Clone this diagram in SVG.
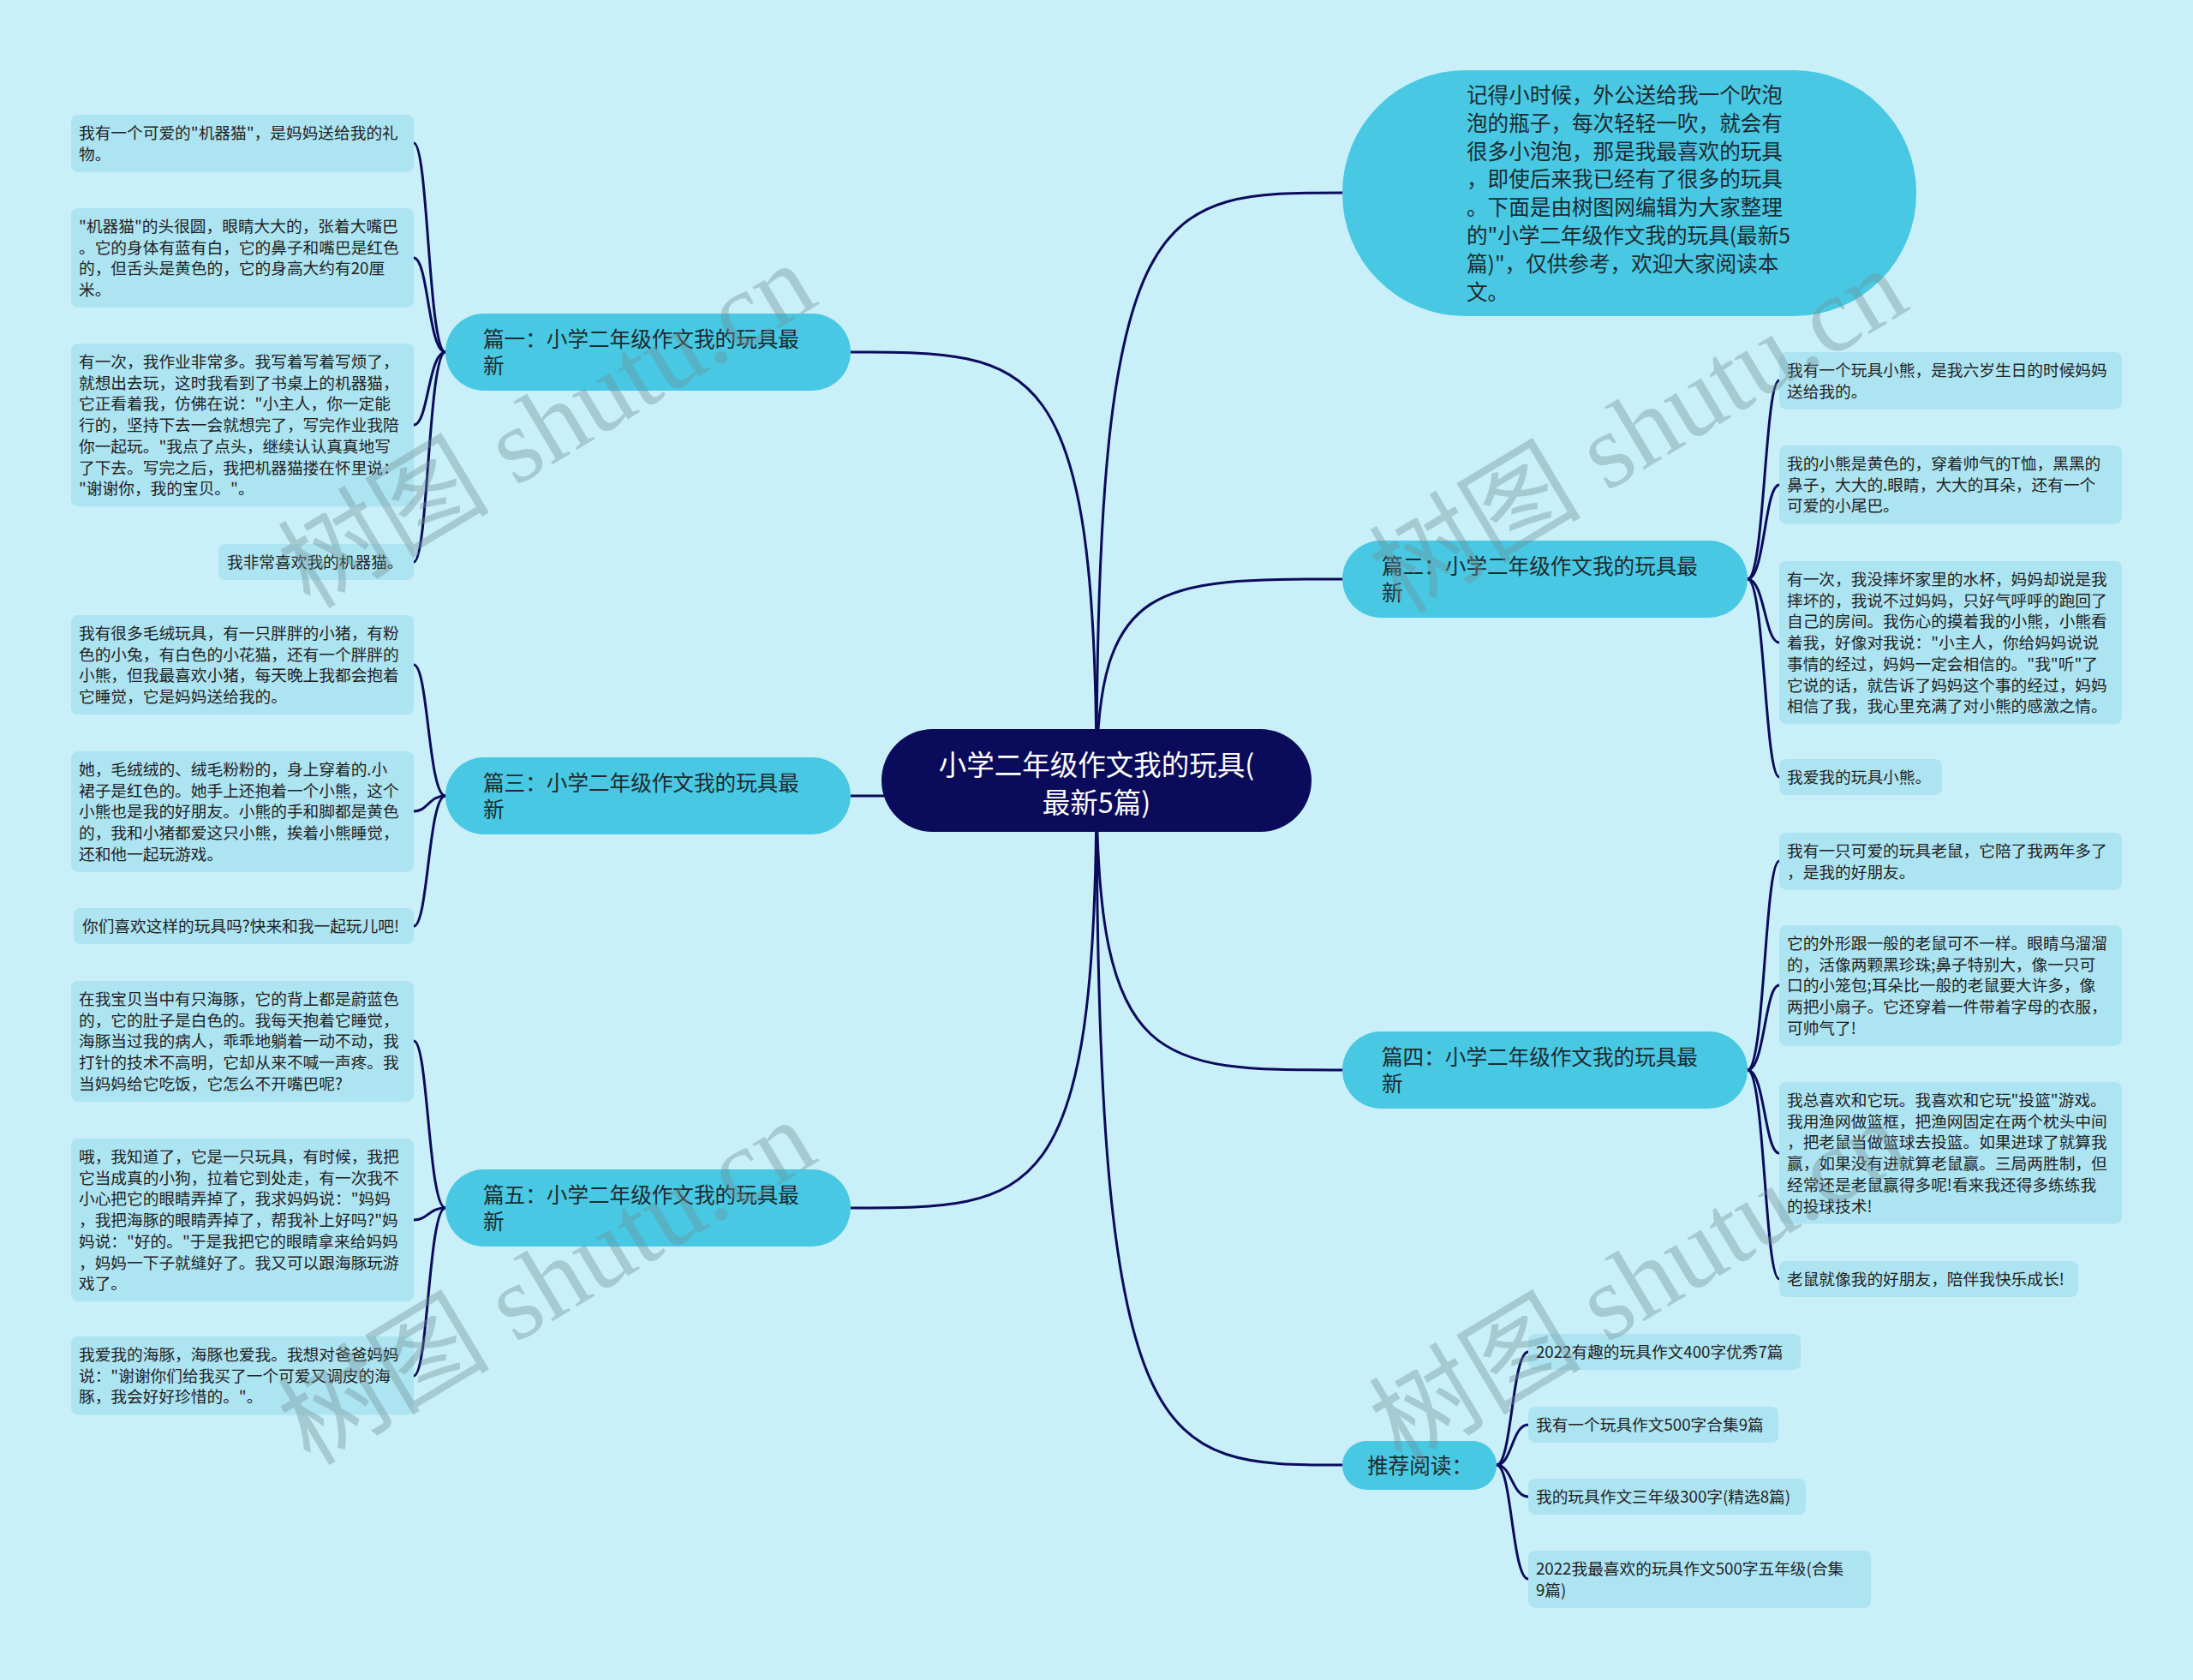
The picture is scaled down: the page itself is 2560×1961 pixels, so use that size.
<svg xmlns="http://www.w3.org/2000/svg" width="2560" height="1961" viewBox="0 0 2560 1961">
<style>
.bg{fill:#c9eff8}
.leaf rect{fill:#ade4f2}
.leaf text{font-family:"Noto Sans CJK SC","Noto Sans",sans-serif;font-size:18.7px;fill:#222}
.br rect{fill:#48c8e2}
.br text{font-family:"Noto Sans CJK SC","Noto Sans",sans-serif;font-size:24.6px;fill:#1e2a30}
.root rect{fill:#0b0b5c}
.root text{font-family:"Noto Sans CJK SC","Noto Sans",sans-serif;font-size:32.5px;fill:#fff;text-anchor:middle}
.conn path{fill:none;stroke:#0b0b5c;stroke-width:3}
.wm{font-family:"Liberation Serif","Noto Sans CJK SC",serif;font-size:124px;fill:#6f8f96;opacity:0.38}
</style>
<rect class="bg" x="0" y="0" width="2560" height="1961"/>

<g id="connectors" class="conn">
<path d="M1280 911 C1280 411 1208 411 993 411"/>
<path d="M1280 911 C1280 929 1208 929 993 929"/>
<path d="M1280 911 C1280 1410 1208 1410 993 1410"/>
<path d="M1280 911 C1280 225 1352 225 1567 225"/>
<path d="M1280 911 C1280 676 1352 676 1567 676"/>
<path d="M1280 911 C1280 1249 1352 1249 1567 1249"/>
<path d="M1280 911 C1280 1710 1352 1710 1567 1710"/>
<path d="M520 411 C500 411 500 167 483 167"/>
<path d="M520 411 C500 411 500 301 483 301"/>
<path d="M520 411 C500 411 500 496 483 496"/>
<path d="M520 411 C500 411 500 656 483 656"/>
<path d="M520 929 C500 929 500 776 483 776"/>
<path d="M520 929 C500 929 500 947 483 947"/>
<path d="M520 929 C500 929 500 1081 483 1081"/>
<path d="M520 1410 C500 1410 500 1215 483 1215"/>
<path d="M520 1410 C500 1410 500 1424 483 1424"/>
<path d="M520 1410 C500 1410 500 1606 483 1606"/>
<path d="M2040 676 C2060 676 2060 444 2077 444"/>
<path d="M2040 676 C2060 676 2060 566 2077 566"/>
<path d="M2040 676 C2060 676 2060 750 2077 750"/>
<path d="M2040 676 C2060 676 2060 907 2077 907"/>
<path d="M2040 1249 C2060 1249 2060 1005 2077 1005"/>
<path d="M2040 1249 C2060 1249 2060 1150 2077 1150"/>
<path d="M2040 1249 C2060 1249 2060 1346 2077 1346"/>
<path d="M2040 1249 C2060 1249 2060 1493 2077 1493"/>
<path d="M1747 1710 C1765 1710 1765 1578 1784 1578"/>
<path d="M1747 1710 C1765 1710 1765 1663 1784 1663"/>
<path d="M1747 1710 C1765 1710 1765 1747 1784 1747"/>
<path d="M1747 1710 C1765 1710 1765 1843 1784 1843"/>
</g>

<g id="root" class="root">
<rect x="1029" y="851" width="502" height="120" rx="60"/>
<text x="1280" y="905">小学二年级作文我的玩具(<tspan x="1280" dy="44">最新5篇)</tspan></text>
</g>

<g id="b1" class="br"><rect x="520" y="366" width="473" height="90" rx="45"/>
<text x="564" y="405">篇一：小学二年级作文我的玩具最<tspan x="564" dy="31">新</tspan></text></g>
<g id="b3" class="br"><rect x="520" y="884" width="473" height="90" rx="45"/>
<text x="564" y="923">篇三：小学二年级作文我的玩具最<tspan x="564" dy="31">新</tspan></text></g>
<g id="b5" class="br"><rect x="520" y="1365" width="473" height="90" rx="45"/>
<text x="564" y="1404">篇五：小学二年级作文我的玩具最<tspan x="564" dy="31">新</tspan></text></g>
<g id="b2" class="br"><rect x="1567" y="631" width="473" height="90" rx="45"/>
<text x="1613" y="670">篇二：小学二年级作文我的玩具最<tspan x="1613" dy="31">新</tspan></text></g>
<g id="b4" class="br"><rect x="1567" y="1204" width="473" height="90" rx="45"/>
<text x="1613" y="1243">篇四：小学二年级作文我的玩具最<tspan x="1613" dy="31">新</tspan></text></g>
<g id="rec" class="br"><rect x="1567" y="1682" width="180" height="57" rx="28"/>
<text x="1596" y="1720">推荐阅读：</text></g>

<g id="intro" class="br"><rect x="1567" y="82" width="670" height="287" rx="143"/>
<text x="1712" y="120">记得小时候，外公送给我一个吹泡<tspan x="1712" dy="32.8">泡的瓶子，每次轻轻一吹，就会有</tspan><tspan x="1712" dy="32.8">很多小泡泡，那是我最喜欢的玩具</tspan><tspan x="1712" dy="32.8">，即使后来我已经有了很多的玩具</tspan><tspan x="1712" dy="32.8">。下面是由树图网编辑为大家整理</tspan><tspan x="1712" dy="32.8">的"小学二年级作文我的玩具(最新5</tspan><tspan x="1712" dy="32.8">篇)"，仅供参考，欢迎大家阅读本</tspan><tspan x="1712" dy="32.8">文。</tspan></text></g>

<g id="l1a" class="leaf"><rect x="83" y="134" width="400" height="66.7" rx="8"/>
<text x="92" y="162">我有一个可爱的"机器猫"，是妈妈送给我的礼<tspan x="92" dy="24.7">物。</tspan></text></g>
<g id="l1b" class="leaf"><rect x="83" y="243" width="400" height="116.1" rx="8"/>
<text x="92" y="271">"机器猫"的头很圆，眼睛大大的，张着大嘴巴<tspan x="92" dy="24.7">。它的身体有蓝有白，它的鼻子和嘴巴是红色</tspan><tspan x="92" dy="24.7">的，但舌头是黄色的，它的身高大约有20厘</tspan><tspan x="92" dy="24.7">米。</tspan></text></g>
<g id="l1c" class="leaf"><rect x="83" y="401" width="400" height="190.2" rx="8"/>
<text x="92" y="429">有一次，我作业非常多。我写着写着写烦了，<tspan x="92" dy="24.7">就想出去玩，这时我看到了书桌上的机器猫，</tspan><tspan x="92" dy="24.7">它正看着我，仿佛在说："小主人，你一定能</tspan><tspan x="92" dy="24.7">行的，坚持下去一会就想完了，写完作业我陪</tspan><tspan x="92" dy="24.7">你一起玩。"我点了点头，继续认认真真地写</tspan><tspan x="92" dy="24.7">了下去。写完之后，我把机器猫搂在怀里说：</tspan><tspan x="92" dy="24.7">"谢谢你，我的宝贝。"。</tspan></text></g>
<g id="l1d" class="leaf"><rect x="255" y="635" width="228" height="42" rx="8"/>
<text x="265" y="663">我非常喜欢我的机器猫。</text></g>

<g id="l3a" class="leaf"><rect x="83" y="718" width="400" height="116.1" rx="8"/>
<text x="92" y="746">我有很多毛绒玩具，有一只胖胖的小猪，有粉<tspan x="92" dy="24.7">色的小兔，有白色的小花猫，还有一个胖胖的</tspan><tspan x="92" dy="24.7">小熊，但我最喜欢小猪，每天晚上我都会抱着</tspan><tspan x="92" dy="24.7">它睡觉，它是妈妈送给我的。</tspan></text></g>
<g id="l3b" class="leaf"><rect x="83" y="877" width="400" height="140.8" rx="8"/>
<text x="92" y="905">她，毛绒绒的、绒毛粉粉的，身上穿着的.小<tspan x="92" dy="24.7">裙子是红色的。她手上还抱着一个小熊，这个</tspan><tspan x="92" dy="24.7">小熊也是我的好朋友。小熊的手和脚都是黄色</tspan><tspan x="92" dy="24.7">的，我和小猪都爱这只小熊，挨着小熊睡觉，</tspan><tspan x="92" dy="24.7">还和他一起玩游戏。</tspan></text></g>
<g id="l3c" class="leaf"><rect x="86" y="1060" width="397" height="42" rx="8"/>
<text x="96" y="1088">你们喜欢这样的玩具吗?快来和我一起玩儿吧!</text></g>

<g id="l5a" class="leaf"><rect x="83" y="1145" width="400" height="140.8" rx="8"/>
<text x="92" y="1173">在我宝贝当中有只海豚，它的背上都是蔚蓝色<tspan x="92" dy="24.7">的，它的肚子是白色的。我每天抱着它睡觉，</tspan><tspan x="92" dy="24.7">海豚当过我的病人，乖乖地躺着一动不动，我</tspan><tspan x="92" dy="24.7">打针的技术不高明，它却从来不喊一声疼。我</tspan><tspan x="92" dy="24.7">当妈妈给它吃饭，它怎么不开嘴巴呢?</tspan></text></g>
<g id="l5b" class="leaf"><rect x="83" y="1329" width="400" height="190.2" rx="8"/>
<text x="92" y="1357">哦，我知道了，它是一只玩具，有时候，我把<tspan x="92" dy="24.7">它当成真的小狗，拉着它到处走，有一次我不</tspan><tspan x="92" dy="24.7">小心把它的眼睛弄掉了，我求妈妈说："妈妈</tspan><tspan x="92" dy="24.7">，我把海豚的眼睛弄掉了，帮我补上好吗?"妈</tspan><tspan x="92" dy="24.7">妈说："好的。"于是我把它的眼睛拿来给妈妈</tspan><tspan x="92" dy="24.7">，妈妈一下子就缝好了。我又可以跟海豚玩游</tspan><tspan x="92" dy="24.7">戏了。</tspan></text></g>
<g id="l5c" class="leaf"><rect x="83" y="1560" width="400" height="91.4" rx="8"/>
<text x="92" y="1588">我爱我的海豚，海豚也爱我。我想对爸爸妈妈<tspan x="92" dy="24.7">说："谢谢你们给我买了一个可爱又调皮的海</tspan><tspan x="92" dy="24.7">豚，我会好好珍惜的。"。</tspan></text></g>

<g id="l2a" class="leaf"><rect x="2077" y="411" width="400" height="66.7" rx="8"/>
<text x="2086" y="439">我有一个玩具小熊，是我六岁生日的时候妈妈<tspan x="2086" dy="24.7">送给我的。</tspan></text></g>
<g id="l2b" class="leaf"><rect x="2077" y="520" width="400" height="91.4" rx="8"/>
<text x="2086" y="548">我的小熊是黄色的，穿着帅气的T恤，黑黑的<tspan x="2086" dy="24.7">鼻子，大大的.眼睛，大大的耳朵，还有一个</tspan><tspan x="2086" dy="24.7">可爱的小尾巴。</tspan></text></g>
<g id="l2c" class="leaf"><rect x="2077" y="655" width="400" height="190.2" rx="8"/>
<text x="2086" y="683">有一次，我没摔坏家里的水杯，妈妈却说是我<tspan x="2086" dy="24.7">摔坏的，我说不过妈妈，只好气呼呼的跑回了</tspan><tspan x="2086" dy="24.7">自己的房间。我伤心的摸着我的小熊，小熊看</tspan><tspan x="2086" dy="24.7">着我，好像对我说："小主人，你给妈妈说说</tspan><tspan x="2086" dy="24.7">事情的经过，妈妈一定会相信的。"我"听"了</tspan><tspan x="2086" dy="24.7">它说的话，就告诉了妈妈这个事的经过，妈妈</tspan><tspan x="2086" dy="24.7">相信了我，我心里充满了对小熊的感激之情。</tspan></text></g>
<g id="l2d" class="leaf"><rect x="2077" y="886" width="190" height="42" rx="8"/>
<text x="2086" y="914">我爱我的玩具小熊。</text></g>

<g id="l4a" class="leaf"><rect x="2077" y="972" width="400" height="66.7" rx="8"/>
<text x="2086" y="1000">我有一只可爱的玩具老鼠，它陪了我两年多了<tspan x="2086" dy="24.7">，是我的好朋友。</tspan></text></g>
<g id="l4b" class="leaf"><rect x="2077" y="1080" width="400" height="140.8" rx="8"/>
<text x="2086" y="1108">它的外形跟一般的老鼠可不一样。眼睛乌溜溜<tspan x="2086" dy="24.7">的，活像两颗黑珍珠;鼻子特别大，像一只可</tspan><tspan x="2086" dy="24.7">口的小笼包;耳朵比一般的老鼠要大许多，像</tspan><tspan x="2086" dy="24.7">两把小扇子。它还穿着一件带着字母的衣服，</tspan><tspan x="2086" dy="24.7">可帅气了!</tspan></text></g>
<g id="l4c" class="leaf"><rect x="2077" y="1263" width="400" height="165.5" rx="8"/>
<text x="2086" y="1291">我总喜欢和它玩。我喜欢和它玩"投篮"游戏。<tspan x="2086" dy="24.7">我用渔网做篮框，把渔网固定在两个枕头中间</tspan><tspan x="2086" dy="24.7">，把老鼠当做篮球去投篮。如果进球了就算我</tspan><tspan x="2086" dy="24.7">赢，如果没有进就算老鼠赢。三局两胜制，但</tspan><tspan x="2086" dy="24.7">经常还是老鼠赢得多呢!看来我还得多练练我</tspan><tspan x="2086" dy="24.7">的投球技术!</tspan></text></g>
<g id="l4d" class="leaf"><rect x="2077" y="1472" width="349" height="42" rx="8"/>
<text x="2086" y="1500">老鼠就像我的好朋友，陪伴我快乐成长!</text></g>

<g id="r1" class="leaf"><rect x="1784" y="1557" width="318" height="42" rx="8"/>
<text x="1793" y="1585">2022有趣的玩具作文400字优秀7篇</text></g>
<g id="r2" class="leaf"><rect x="1784" y="1642" width="292" height="42" rx="8"/>
<text x="1793" y="1670">我有一个玩具作文500字合集9篇</text></g>
<g id="r3" class="leaf"><rect x="1784" y="1726" width="324" height="42" rx="8"/>
<text x="1793" y="1754">我的玩具作文三年级300字(精选8篇)</text></g>
<g id="r4" class="leaf"><rect x="1784" y="1810" width="400" height="66.7" rx="8"/>
<text x="1793" y="1838">2022我最喜欢的玩具作文500字五年级(合集<tspan x="1793" dy="24.7">9篇)</tspan></text></g>

<g id="watermarks">
<text class="wm" transform="translate(362 712) rotate(-31)">树图 shutu.cn</text>
<text class="wm" transform="translate(362 1712) rotate(-31)">树图 shutu.cn</text>
<text class="wm" transform="translate(1636 718) rotate(-31)">树图 shutu.cn</text>
<text class="wm" transform="translate(1636 1712) rotate(-31)">树图 shutu.cn</text>
</g>
</svg>
